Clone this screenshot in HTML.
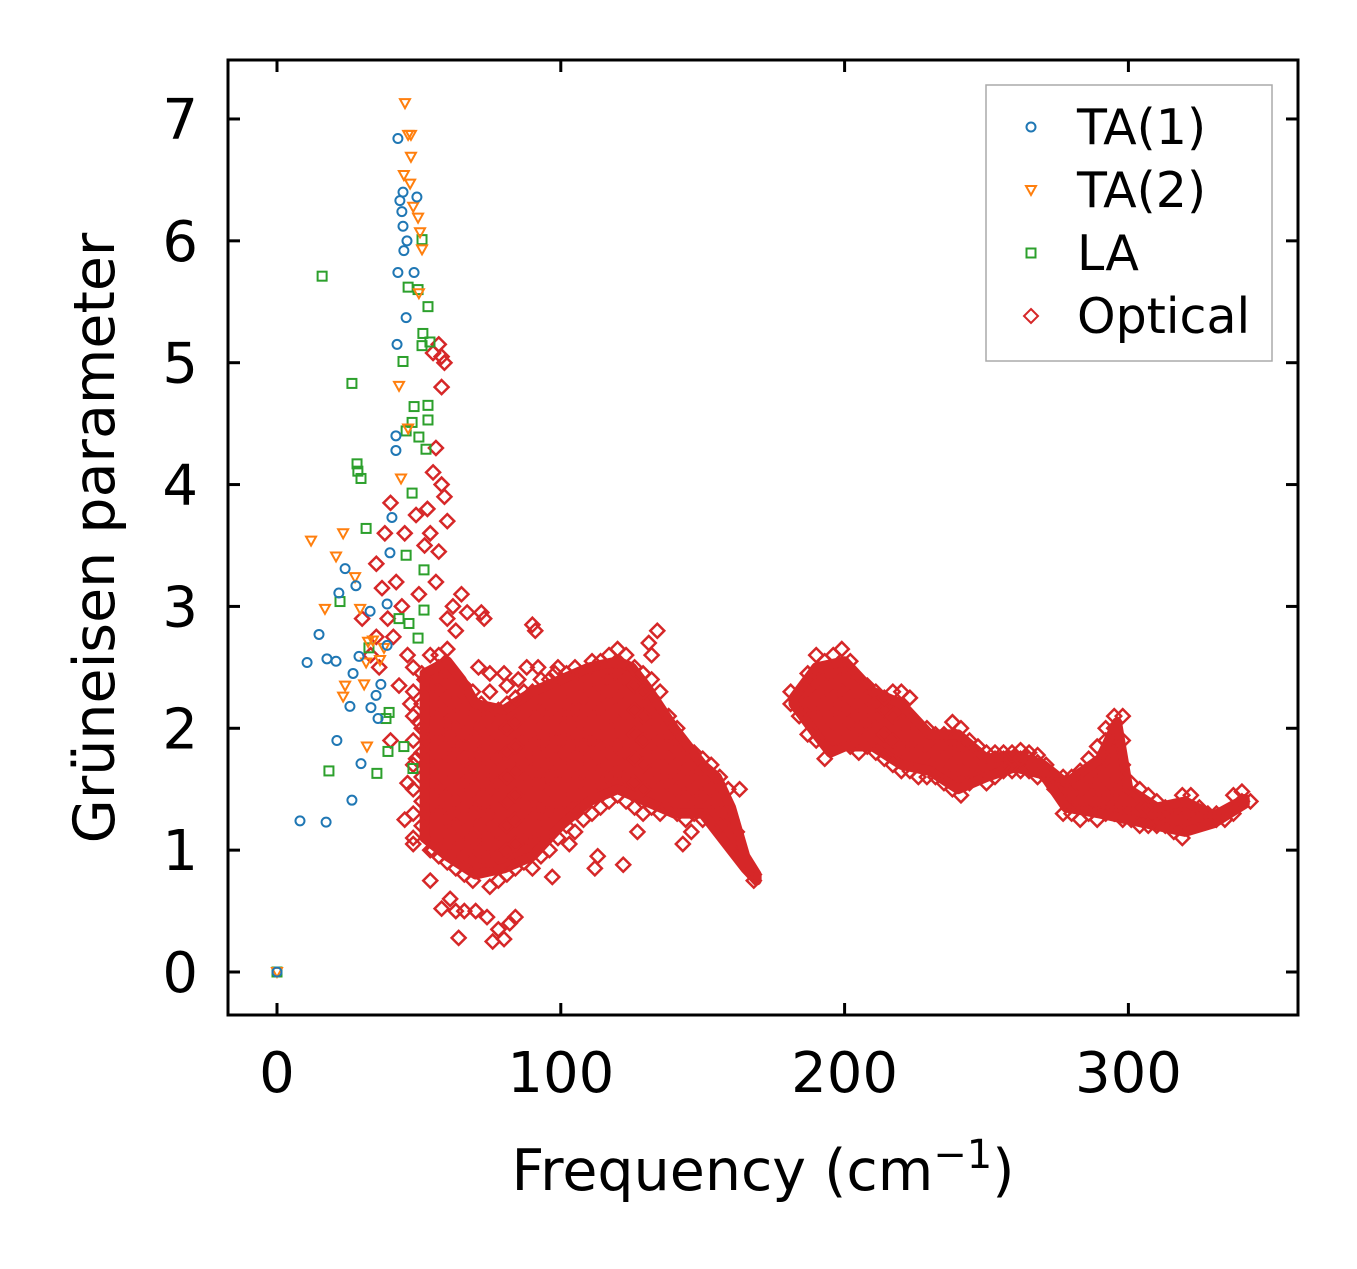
<!DOCTYPE html>
<html><head><meta charset="utf-8"><style>
body{margin:0;background:#fff;}
svg text{font-family:"DejaVu Sans","Liberation Sans",sans-serif;fill:#000;}
</style></head><body>
<svg id="chart" width="1357" height="1264" xmlns="http://www.w3.org/2000/svg">
<g id="marks"></g>
<g id="axes"></g>
</svg>
<script>
const xTicks=[0,100,200,300];
const yTicks=[0,1,2,3,4,5,6,7];
const ta1=[[42.6,6.84],[44.4,6.40],[43.3,6.33],[49.3,6.36],[44.0,6.24],[44.4,6.12],[45.8,6.0],[44.7,5.92],[42.6,5.74],[48.3,5.74],[45.5,5.37],[42.3,5.15],[41.9,4.40],[41.9,4.28],[40.5,3.73],[39.8,3.44],[24.0,3.31],[27.8,3.17],[21.8,3.11],[38.8,3.02],[32.8,2.96],[14.8,2.77],[38.8,2.68],[28.9,2.59],[10.6,2.54],[17.6,2.57],[20.8,2.55],[26.8,2.45],[36.6,2.36],[34.9,2.27],[25.7,2.18],[33.1,2.17],[35.6,2.08],[21.1,1.90],[29.6,1.71],[26.4,1.41],[8.1,1.24],[17.3,1.23],[0,0]];
const ta2=[[45.1,7.13],[46.2,6.87],[47.2,6.87],[47.2,6.69],[44.7,6.54],[46.9,6.47],[48.0,6.28],[49.7,6.19],[50.4,6.07],[51.1,5.93],[50.0,5.57],[43.0,4.81],[46.2,4.46],[43.7,4.05],[12.0,3.54],[23.3,3.60],[20.8,3.41],[16.9,2.98],[27.5,3.24],[29.3,2.98],[32.1,2.71],[33.8,2.72],[36.3,2.56],[37.7,2.66],[24.0,2.35],[23.3,2.26],[30.7,2.36],[31.7,1.85],[31.4,2.54],[0,0]];
const la=[[15.9,5.71],[51.1,6.01],[46.2,5.62],[49.7,5.60],[53.2,5.46],[51.4,5.24],[51.1,5.14],[53.9,5.17],[44.4,5.01],[48.3,4.64],[53.2,4.65],[47.6,4.51],[53.2,4.53],[45.5,4.44],[50.0,4.39],[52.5,4.29],[26.4,4.83],[28.2,4.17],[28.5,4.11],[29.6,4.05],[47.6,3.93],[31.4,3.64],[45.5,3.42],[51.8,3.30],[22.2,3.04],[51.8,2.97],[43.0,2.90],[46.5,2.86],[49.7,2.74],[32.4,2.66],[39.5,2.13],[38.4,2.08],[44.7,1.85],[35.2,1.63],[18.3,1.65],[39.1,1.81],[47.9,1.67],[0,0]];
const optScatter=[[57,5.15],[58,5.05],[59,5.0],[55,5.08],[58,4.8],[56,4.3],[55,4.1],[58,4.0],[59,3.9],[53,3.8],[49,3.75],[60,3.7],[54,3.6],[57,3.45],[52,3.5],[45,3.6],[40,3.85],[38,3.6],[35,3.35],[42,3.2],[37,3.15],[56,3.2],[50,3.1],[44,3.0],[39,2.9],[35,2.75],[30,2.9],[33,2.6],[41,2.75],[46,2.6],[48,2.5],[52,2.4],[56,2.3],[43,2.35],[47,2.2],[50,2.05],[53,1.9],[49,1.75],[46,1.55],[45,1.25],[48,1.05],[40,1.9],[36,2.5],[55,1.0],[54,0.75],[58,0.52],[61,0.6],[64,0.28],[66,0.5],[57,2.6],[59,2.0],[60,2.9],[62,3.0],[63,2.8],[65,3.1],[67,2.95],[72,2.95],[73,2.9],[90,2.85],[91,2.8],[92,2.5],[98,2.45],[134,2.8],[131,2.7],[122,0.88],[112,0.85],[113,0.95],[127,1.15],[97,0.78],[80,0.27],[78,0.35],[82,0.4],[84,0.45],[74,0.45],[70,0.5],[76,0.25],[71,2.5],[75,2.45],[80,2.45],[85,2.4],[88,2.5],[103,1.05],[143,1.05],[146,1.15],[160,1.25],[163,1.5],[63,0.5]];
const optCols=[
[48,[1.1,1.3,1.5,1.7,1.9,2.1,2.3]],[51,[1.2,1.4,1.6,1.8,2.0,2.2,2.45]],[54,[1.0,1.15,1.35,1.55,1.75,1.95,2.15,2.35,2.6]],[57,[0.95,1.1,1.3,1.5,1.7,1.9,2.1,2.3,2.5]],[60,[0.9,1.05,1.25,1.45,1.65,1.85,2.05,2.25,2.45,2.65]],[63,[0.85,1.0,1.2,1.4,1.6,1.8,2.0,2.2,2.4]],[66,[0.8,0.95,1.15,1.35,1.55,1.75,1.95,2.15,2.35]],[69,[0.75,0.9,1.1,1.3,1.5,1.7,1.9,2.1,2.3]],[72,[0.85,1.0,1.2,1.4,1.6,1.8,2.0,2.2]],[75,[0.7,0.9,1.1,1.3,1.5,1.7,1.9,2.1,2.3]],[78,[0.75,0.95,1.15,1.35,1.55,1.75,1.95,2.15]],[81,[0.8,1.0,1.2,1.4,1.6,1.8,2.0,2.2,2.35]],[84,[0.85,1.05,1.25,1.45,1.65,1.85,2.05,2.25]],[87,[0.9,1.1,1.3,1.5,1.7,1.9,2.1,2.3]],[90,[0.85,1.05,1.25,1.45,1.65,1.85,2.05,2.3]],[93,[0.95,1.15,1.35,1.55,1.75,1.95,2.15,2.4]],[96,[1.0,1.2,1.4,1.6,1.8,2.0,2.2,2.4]],[99,[1.1,1.3,1.5,1.7,1.9,2.1,2.3,2.5]],[102,[1.2,1.4,1.6,1.8,2.0,2.2,2.45]],[105,[1.15,1.35,1.55,1.75,1.95,2.15,2.35,2.5]],[108,[1.25,1.45,1.65,1.85,2.05,2.25,2.45]],[111,[1.3,1.5,1.7,1.9,2.1,2.3,2.55]],[114,[1.35,1.55,1.75,1.95,2.15,2.35,2.55]],[117,[1.4,1.6,1.8,2.0,2.2,2.4,2.6]],[120,[1.45,1.65,1.85,2.05,2.25,2.45,2.65]],[123,[1.4,1.6,1.8,2.0,2.2,2.4,2.6]],[126,[1.35,1.55,1.75,1.95,2.15,2.35,2.5]],[129,[1.3,1.5,1.7,1.9,2.1,2.3,2.45]],[132,[1.35,1.55,1.75,1.95,2.15,2.4,2.6]],[135,[1.3,1.5,1.7,1.9,2.1,2.3]],[138,[1.35,1.55,1.75,1.95,2.1]],[141,[1.3,1.5,1.7,1.9,2.0]],[144,[1.25,1.45,1.65,1.85]],[147,[1.3,1.5,1.7,1.8]],[150,[1.25,1.45,1.65,1.75]],[153,[1.3,1.5,1.7]],[156,[1.2,1.4,1.6]],[159,[1.1,1.3,1.5]],[162,[1.0,1.15]],[165,[0.9]],[168,[0.8,0.75]],
[181,[2.2,2.3]],[184,[2.1,2.25]],[187,[1.95,2.1,2.3,2.45]],[190,[1.9,2.05,2.25,2.45,2.6]],[193,[1.75,1.95,2.15,2.35,2.55]],[196,[1.85,2.05,2.25,2.45,2.6]],[199,[1.9,2.1,2.3,2.5,2.65]],[202,[1.85,2.05,2.25,2.45,2.55]],[205,[1.8,2.0,2.2,2.4]],[208,[1.85,2.05,2.25,2.35]],[211,[1.8,2.0,2.2,2.3]],[214,[1.75,1.95,2.15,2.25]],[217,[1.7,1.9,2.1,2.3]],[220,[1.65,1.85,2.05,2.3]],[223,[1.65,1.85,2.05,2.25]],[226,[1.6,1.8,2.0]],[229,[1.6,1.8,2.0]],[232,[1.6,1.8,1.95]],[235,[1.55,1.75,1.95]],[238,[1.5,1.7,1.9,2.05]],[241,[1.45,1.65,1.85,2.0]],[244,[1.55,1.75,1.9]],[247,[1.6,1.75,1.85]],[250,[1.55,1.7,1.8]],[253,[1.6,1.75,1.8]],[256,[1.65,1.75,1.8]],[259,[1.65,1.75,1.8]],[262,[1.65,1.75,1.82]],[265,[1.65,1.75,1.8]],[268,[1.6,1.72,1.78]],[271,[1.6,1.7]],[274,[1.5,1.6]],[277,[1.3,1.45,1.6]],[280,[1.3,1.45,1.6]],[283,[1.25,1.4,1.55,1.65]],[286,[1.3,1.45,1.6,1.75]],[289,[1.25,1.4,1.55,1.7,1.85]],[292,[1.3,1.45,1.6,1.75,1.9,2.0]],[295,[1.3,1.45,1.6,1.8,2.0,2.1]],[298,[1.25,1.4,1.55,1.7,1.9,2.1]],[301,[1.25,1.4,1.55]],[304,[1.2,1.35,1.5]],[307,[1.2,1.35,1.45]],[310,[1.2,1.3,1.4]],[313,[1.2,1.3,1.35]],[316,[1.15,1.25,1.35]],[319,[1.1,1.25,1.45]],[322,[1.2,1.35,1.45]],[325,[1.25,1.35]],[328,[1.25,1.3]],[331,[1.25,1.3]],[334,[1.25]],[337,[1.3,1.45]],[340,[1.4,1.48]],[343,[1.4]]
];
// dense-core envelopes of the optical cloud (x, y)
const coreLowUpper=[[52,2.45],[60,2.55],[65,2.4],[70,2.2],[80,2.15],[90,2.3],[100,2.4],[110,2.5],[120,2.55],[125,2.5],[130,2.35],[140,2.0],[150,1.7],[155,1.6],[160,1.35],[165,0.95],[169,0.8]];
const coreLowLower=[[169,0.75],[165,0.85],[160,1.0],[150,1.3],[140,1.3],[130,1.4],[120,1.5],[110,1.4],[100,1.2],[90,0.95],[80,0.85],[70,0.8],[60,0.95],[52,1.1]];
const coreHighUpper=[[182,2.25],[190,2.5],[200,2.55],[210,2.3],[220,2.2],[230,1.95],[240,1.95],[250,1.75],[260,1.78],[270,1.7],[278,1.55],[290,1.75],[296,2.05],[300,1.5],[310,1.35],[320,1.4],[330,1.28],[341,1.42]];
const coreHighLower=[[341,1.38],[330,1.22],[320,1.15],[310,1.2],[300,1.25],[290,1.3],[278,1.35],[270,1.62],[260,1.68],[250,1.6],[240,1.5],[230,1.65],[220,1.7],[210,1.85],[200,1.85],[195,1.8],[190,1.95],[182,2.2]];
const L=228,R=1298,T=60,B=1015;
const X0=277,XS=2.838,Y0=972,YS=121.86;
function sx(v){return X0+v*XS;}
function sy(v){return Y0-v*YS;}
const NS='http://www.w3.org/2000/svg';
const marks=document.getElementById('marks');
const axes=document.getElementById('axes');
function mk(tag,attrs,parent){const e=document.createElementNS(NS,tag);for(const k in attrs)e.setAttribute(k,attrs[k]);parent.appendChild(e);return e;}
function diamond(x,y,h){return `${x},${y-h} ${x+h},${y} ${x},${y+h} ${x-h},${y}`;}
function tri(x,y,h){return `${x-h},${y-h*0.8} ${x+h},${y-h*0.8} ${x},${y+h}`;}
const gO=mk('g',{},marks);


[[coreLowUpper,coreLowLower],[coreHighUpper,coreHighLower]].forEach(pair=>{
  const pts=pair[0].concat(pair[1]).map(p=>sx(p[0])+','+sy(p[1])).join(' ');
  const e=mk('polygon',{points:pts,fill:'#d62728',stroke:'#d62728','stroke-width':10,'stroke-linejoin':'round'},gO);
  
  
});
const optAll=[];
optScatter.forEach(p=>optAll.push(p));
optCols.forEach(c=>c[1].forEach(y=>optAll.push([c[0],y])));
optAll.forEach(p=>{
  const e=mk('polygon',{points:diamond(sx(p[0]),sy(p[1]),7),fill:'none',stroke:'#d62728','stroke-width':2.5},gO);
  
  
});
const gL=mk('g',{},marks);


la.forEach(p=>{
  const e=mk('rect',{x:sx(p[0])-4.5,y:sy(p[1])-4.5,width:9,height:9,fill:'none',stroke:'#2ca02c','stroke-width':2},gL);
  
  
});
const gT2=mk('g',{},marks);


ta2.forEach(p=>{
  const e=mk('polygon',{points:tri(sx(p[0]),sy(p[1]),5),fill:'none',stroke:'#ff7f0e','stroke-width':2},gT2);
  
  
});
const gT1=mk('g',{},marks);


ta1.forEach(p=>{
  const e=mk('circle',{cx:sx(p[0]),cy:sy(p[1]),r:4.5,fill:'none',stroke:'#1f77b4','stroke-width':2},gT1);
  
  
});
const fr=mk('rect',{x:L,y:T,width:R-L,height:B-T,fill:'none',stroke:'#000','stroke-width':3},axes);


xTicks.forEach(v=>{
  const x=sx(v);
  mk('line',{x1:x,y1:B,x2:x,y2:B-12,stroke:'#000','stroke-width':3},axes);
  mk('line',{x1:x,y1:T,x2:x,y2:T+12,stroke:'#000','stroke-width':3},axes);
  const t=mk('text',{x:x,y:1092,'font-size':56,'text-anchor':'middle'},axes);
  t.textContent=v;
  
  
});
yTicks.forEach(v=>{
  const y=sy(v);
  mk('line',{x1:L,y1:y,x2:L+12,y2:y,stroke:'#000','stroke-width':3},axes);
  mk('line',{x1:R,y1:y,x2:R-12,y2:y,stroke:'#000','stroke-width':3},axes);
  const t=mk('text',{x:198,y:y+20,'font-size':56,'text-anchor':'end'},axes);
  t.textContent=v;
  
  
});
const xl=mk('text',{x:763,y:1190,'font-size':57,'text-anchor':'middle'},axes);
xl.innerHTML='Frequency (cm<tspan dy="-22" font-size="40">−1</tspan><tspan dy="22">)</tspan>';


const yl=mk('text',{x:0,y:0,'font-size':57,'text-anchor':'middle',transform:'translate(114,538) rotate(-90)'},axes);
yl.textContent='Grüneisen parameter';


const lg=mk('g',{},axes);


mk('rect',{x:986,y:85,width:286,height:276,fill:'#fff',stroke:'#aaa','stroke-width':1.5},lg);
const names=['TA(1)','TA(2)','LA','Optical'];
const rowsY=[127,190,253,316];
names.forEach((n,i)=>{
  const y=rowsY[i],x=1031;
  let m;
  if(i===0)m=mk('circle',{cx:x,cy:y,r:4.5,fill:'none',stroke:'#1f77b4','stroke-width':2},lg);
  if(i===1)m=mk('polygon',{points:tri(x,y,5),fill:'none',stroke:'#ff7f0e','stroke-width':2},lg);
  if(i===2)m=mk('rect',{x:x-4.5,y:y-4.5,width:9,height:9,fill:'none',stroke:'#2ca02c','stroke-width':2},lg);
  if(i===3)m=mk('polygon',{points:diamond(x,y,7),fill:'none',stroke:'#d62728','stroke-width':2},lg);
  
  
  const t=mk('text',{x:1077,y:y+17,'font-size':49},lg);
  t.textContent=n;
  
  
});
</script>
</body></html>
